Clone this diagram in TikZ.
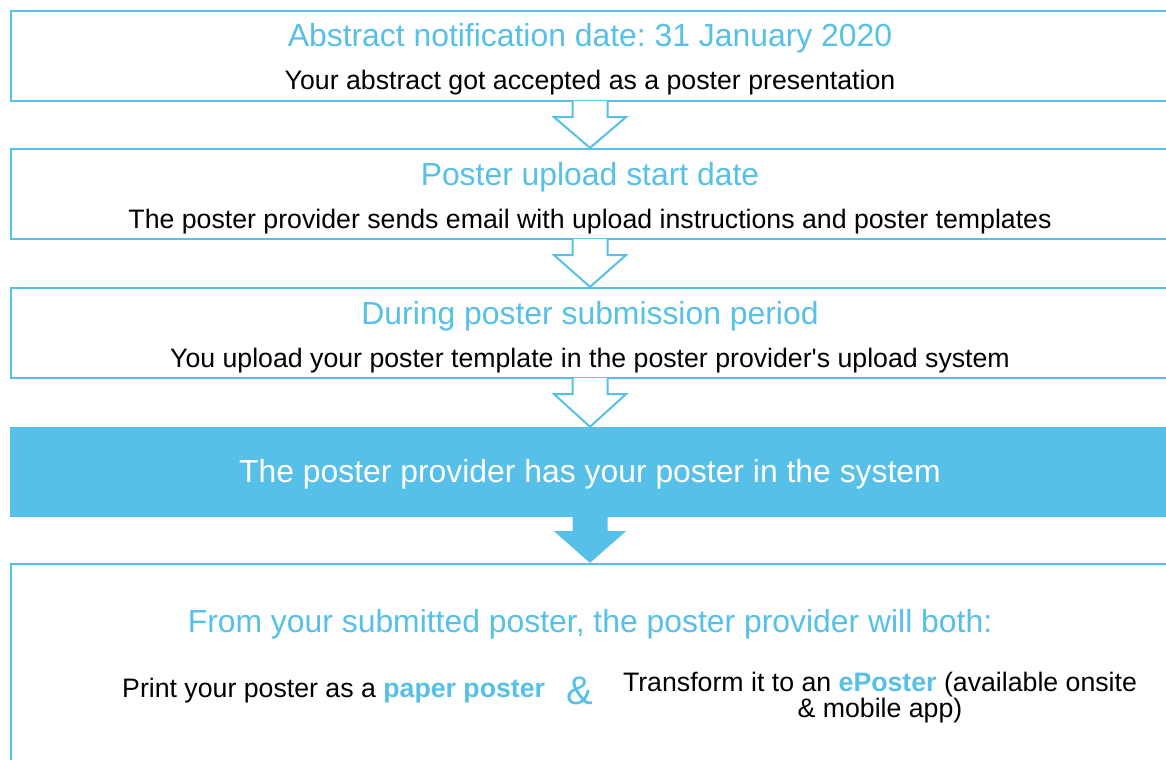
\documentclass[tikz,border=0pt]{standalone}
\usepackage{fontspec}
\setmainfont{Liberation Sans}[Ligatures=TeXOff]
\usetikzlibrary{positioning,calc}
\definecolor{posterblue}{RGB}{86,192,232}
\frenchspacing

\tikzset{
	stage/.style={draw=posterblue, line width=2.2bp, fill=white, minimum width=1158bp, minimum height=90bp, inner sep=0pt},
	hotstage/.style={fill=posterblue, draw=none, minimum width=1160bp, minimum height=90bp, inner sep=0pt},
	headtext/.style={text=posterblue, font=\fontsize{32}{37}\selectfont, anchor=base, inner sep=0pt},
	bodytext/.style={text=black, font=\fontsize{26.8}{28.5}\selectfont, anchor=base, inner sep=0pt},
	hollowarrow/.style={draw=posterblue, line width=2bp, fill=white, line join=miter},
}

\begin{document}
\begin{tikzpicture}[x=1bp, y=-1bp]
		\useasboundingbox (0,0) rectangle (1166,760);
		\clip (0,0) rectangle (1166,760);
		% the stages
		\draw (590,56) node [stage] (b1) {};
		\draw (590,194) node [stage] (b2) {};
		\draw (590,333) node [stage] (b3) {};
		\draw (590,472) node [hotstage] (b4) {};
		\draw (590,689) node [stage, minimum height=250bp] (b5) {};
		% texts
		\node [headtext] (t1) at (590,47) {Abstract notification date: 31 January 2020};
		\node [bodytext] (s1) at (590,90) {Your abstract got accepted as a poster presentation};
		\node [headtext] (t2) at (590,185) {Poster upload start date};
		\node [bodytext] (s2) at (590,228) {The poster provider sends email with upload instructions and poster templates};
		\node [headtext] (t3) at (590,324) {During poster submission period};
		\node [bodytext] (s3) at (590,367) {You upload your poster template in the poster provider's upload system};
		\node [headtext, text=white] (t4) at (590,482) {The poster provider has your poster in the system};
		\node [headtext] (t5) at (590,632) {From your submitted poster, the poster provider will both:};
		\node [bodytext, anchor=base west] (paper) at (122,697) {Print your poster as a \textcolor{posterblue}{\bfseries paper poster}};
		\node [headtext, font=\fontsize{40}{44}\selectfont] (amp) at (580,704) {\&};
		\node [bodytext, align=center, font=\fontsize{26.8}{23}\selectfont] (eposter) at (880,717) {Transform it to an \textcolor{posterblue}{\bfseries ePoster} (available onsite\\ \& mobile app)};
		% arrows between the stages
		\foreach \a/\b in {b1/b2, b2/b3, b3/b4}
			\draw [hollowarrow] ([xshift=-17.5bp, yshift=1.2bp]\a.south) -- ([xshift=-17.5bp, yshift=-15bp]\a.south)
				-- ([xshift=-36bp, yshift=-15bp]\a.south) -- (\b.north)
				-- ([xshift=36bp, yshift=-15bp]\a.south) -- ([xshift=17.5bp, yshift=-15bp]\a.south)
				-- ([xshift=17.5bp, yshift=1.2bp]\a.south);
		\fill [posterblue] ([xshift=-17.5bp]b4.south) -- ([xshift=-17.5bp, yshift=-14bp]b4.south)
			-- ([xshift=-36bp, yshift=-14bp]b4.south) -- (b5.north)
			-- ([xshift=36bp, yshift=-14bp]b4.south) -- ([xshift=17.5bp, yshift=-14bp]b4.south)
			-- ([xshift=17.5bp]b4.south) -- cycle;
	\end{tikzpicture}
\end{document}
